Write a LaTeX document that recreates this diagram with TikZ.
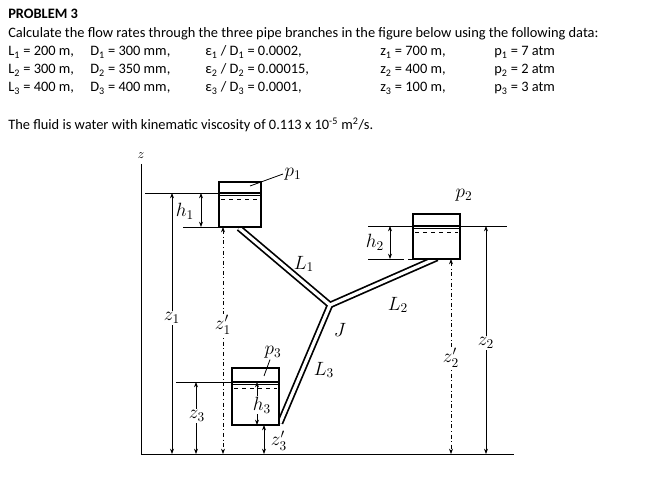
\documentclass[tikz,border=0pt]{standalone}
\usepackage{fontspec}
\setmainfont{Carlito}
\usetikzlibrary{arrows.meta}
\begin{document}
\begin{tikzpicture}[x=0.75pt,y=-0.75pt,
  txt/.style={anchor=base west,inner sep=0pt,font=\fontsize{10.8}{12}\selectfont},
  lab/.style={inner sep=1pt,font=\Large},
  labw/.style={inner sep=1pt,fill=white,font=\Large},
  dim/.style={line width=0.6pt,{Stealth[length=4pt,width=3pt]}-{Stealth[length=4pt,width=3pt]}},
  thin/.style={line width=0.6pt},
  tank/.style={line width=1pt},
  pipeo/.style={line width=5pt,line join=miter},
  pipei/.style={white,line width=2.4pt}]
\useasboundingbox (0,0) rectangle (665,484);
% text
\node[txt,font=\fontsize{10.8}{12}\selectfont\bfseries] (t0) at (8,19) {PROBLEM 3};
\node[txt] (t1) at (8,38) {Calculate the flow rates through the three pipe branches in the figure below using the following data:};
\foreach \i/\L/\D/\e/\z/\p/\y in {1/200/300/0.0002/700/7/56,2/300/350/0.00015/400/2/74,3/400/400/0.0001/100/3/92}{
  \node[txt] (a\i) at (8,\y) {L\textsubscript{\i} = \L\ m,};
  \node[txt] (b\i) at (90,\y) {D\textsubscript{\i} = \D\ mm,};
  \node[txt] (c\i) at (205,\y) {ε\textsubscript{\i} / D\textsubscript{\i} = \e,};
  \node[txt] (d\i) at (380,\y) {z\textsubscript{\i} = \z\ m,};
  \node[txt] (e\i) at (494,\y) {p\textsubscript{\i} = \p\ atm};
}
\node[txt] (t5) at (8,130) {The fluid is water with kinematic viscosity of 0.113 x 10\textsuperscript{-5} m\textsuperscript{2}/s.};
% axes
\coordinate (ztop) at (141,164);
\coordinate (o) at (141,454);
\coordinate (xe) at (514,454);
\draw[thin] (ztop) -- (o) -- (xe);
\node[lab,font=\normalsize] (zl) at (141,156) {$z$};
% pipes
\coordinate (J) at (330,305);
\coordinate (P1) at (239,228);
\coordinate (P2) at (437,258);
\coordinate (P3) at (280,423);
\draw[pipeo] (P1) -- (J) -- (P2); \draw[pipeo] (J) -- (P3);
\draw[pipei] (P1) -- (J) -- (P2); \draw[pipei] (J) -- (P3);
% tanks
\foreach \n/\xa/\xb/\ya/\yw/\yb in {1/219/261/182/193/227,2/413/460/214/226/259,3/232/279/368/382/425}{
  \fill[white] (\xa,\ya) rectangle (\xb,\yb);
  \draw[tank] (\xa,\ya) rectangle (\xb,\yb);
  \draw[line width=1.4pt] (\xa,\yw) -- (\xb,\yw);
  \draw[thin] (\xa,\yw+2.5) -- (\xb,\yw+2.5);
  \draw[thin,dashed] (\xa+2,\yw+6) -- (\xb-2,\yw+6);
}
% reference lines
\draw[thin] (145,193) -- (219,193);
\draw[thin] (183,227) -- (219,227);
\draw[thin] (368,226) -- (413,226);
\draw[thin] (460,226) -- (507,226);
\draw[thin] (368,259) -- (400,259); \draw[thin,dashed] (400,259) -- (413,259);
\draw[thin] (176,382) -- (232,382);
% dimensions
\draw[dim] (201,193) -- (201,227);
\node[labw] (h1) at (185,211) {$h_1$};
\draw[dim] (172,193) -- (172,454);
\node[labw] (z1) at (172,318) {$z_1$};
\draw[dim,dash dot] (223,227) -- (223,454);
\node[labw] (z1p) at (223,325) {$z_1'$};
\draw[dim] (390,226) -- (390,259);
\node[labw] (h2) at (375,242) {$h_2$};
\draw[dim,dash dot] (451,259) -- (451,454);
\node[labw] (z2p) at (451,358) {$z_2'$};
\draw[dim] (486,226) -- (486,454);
\node[labw] (z2) at (486,343) {$z_2$};
\draw[dim] (196,382) -- (196,454);
\node[labw] (z3) at (197,416) {$z_3$};
\draw[dim] (257,382) -- (257,425);
\node[labw] (h3) at (262,405) {$h_3$};
\draw[dim] (264,425) -- (264,454);
\node[lab] (z3p) at (279,441) {$z_3'$};
% labels
\node[lab] (p1) at (293,174) {$p_1$};
\draw[thin] (p1.west) -- (250,186);
\node[lab] (p2) at (464,195) {$p_2$};
\node[lab] (p3) at (273,352) {$p_3$};
\draw[thin] (p3.south) ++(-3,0) -- (264,376);
\node[lab] (L1) at (304,264) {$L_1$};
\node[lab] (L2) at (398,305) {$L_2$};
\node[lab] (L3) at (324,370) {$L_3$};
\node[lab] (Jl) at (340,330) {$J$};
\end{tikzpicture}
\end{document}
